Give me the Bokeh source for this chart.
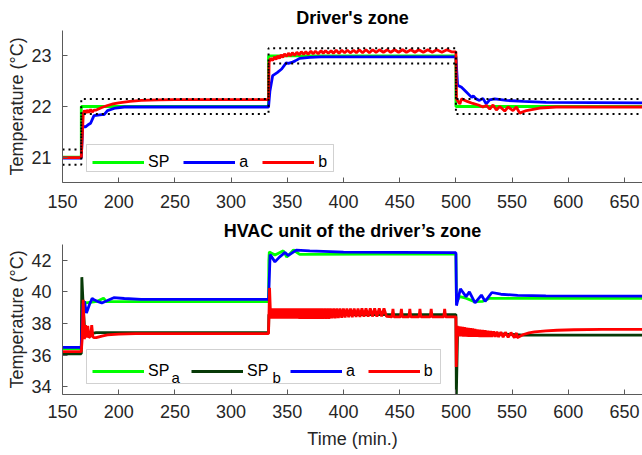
from bokeh.plotting import figure
from bokeh.layouts import column
from bokeh.models import Range1d, Legend, LegendItem, Label, FixedTicker, BoxAnnotation
from bokeh.embed import file_html
from bokeh.resources import INLINE

FONT = "Liberation Sans"
TXT = "#262626"
AXC = "#5a5a5a"

# ---------------- ticks ----------------
x_ticks = [150, 200, 250, 300, 350, 400, 450, 500, 550, 600, 650]
top_y_ticks = [21, 22, 23]
bot_y_ticks = [34, 36, 38, 40, 42]

# ---------------- data: driver's zone ----------------
sp_time = [150, 166.7, 166.7, 333.3, 333.3, 500, 500, 666]
sp_temp = [21.0, 21.0, 22.0, 22.0, 23.0, 23.0, 22.0, 22.0]
tol_upper = [21.15, 21.15, 22.15, 22.15, 23.15, 23.15, 22.15, 22.15]
tol_lower = [20.85, 20.85, 21.85, 21.85, 22.85, 22.85, 21.85, 21.85]

zone_a = [(150, 20.98), (166.7, 20.98), (168, 21.6), (170.5, 21.6), (173.5, 21.65),
          (175, 21.67), (178, 21.82), (185, 21.84), (187, 21.84), (190, 21.92),
          (197, 21.97), (205, 21.99), (333.3, 21.99), (334.5, 22.3), (337, 22.61),
          (341, 22.67), (345, 22.74), (349, 22.86), (351, 22.85), (354, 22.87),
          (357, 22.9), (361, 22.95), (370, 22.97), (380, 22.98), (500, 22.98),
          (501.5, 22.42), (505, 22.38), (509.5, 22.28), (514, 22.18), (515.5, 22.21),
          (518, 22.15), (521, 22.12), (524, 22.16), (527, 22.05), (530, 22.13),
          (534.5, 22.15), (545, 22.12), (560, 22.1), (580, 22.08), (666, 22.07)]

zone_b = [(150, 20.99), (166.7, 20.99), (168.5, 21.86), (169.5, 21.92), (171, 21.87),
          (172, 21.93), (173.5, 21.88), (175, 21.94), (176.5, 21.89), (178, 21.93),
          (180, 21.93), (185, 21.98), (190, 22.02), (195, 22.05), (200, 22.07),
          (210, 22.1), (220, 22.12), (235, 22.13), (250, 22.135), (333.3, 22.135),
          (333.8, 22.87), (335, 22.95), (337, 22.91), (338.5, 22.98), (340, 22.93),
          (341.5, 23.0), (343, 22.95), (344.5, 23.02), (346, 22.97), (347.5, 23.04),
          (349.5, 22.99), (351, 23.05), (353, 23.0), (354.5, 23.06), (356.5, 23.01),
          (358.5, 23.07), (360.5, 23.02), (362.5, 23.08), (364.5, 23.03), (366.5, 23.08),
          (368.5, 23.03), (371, 23.09), (373, 23.04), (375, 23.09), (377.5, 23.04),
          (380, 23.1), (382, 23.05), (384, 23.1), (386.5, 23.05), (389, 23.1),
          (391, 23.05), (393.5, 23.11), (396, 23.05), (398.5, 23.11), (401, 23.06),
          (403.5, 23.11), (406, 23.06), (409, 23.11), (411.5, 23.06), (414, 23.12),
          (417, 23.06), (420, 23.12), (423, 23.06), (426, 23.12), (429, 23.07),
          (432, 23.12), (435.5, 23.07), (439, 23.12), (442, 23.07), (445.5, 23.12),
          (449, 23.07), (452.5, 23.12), (456, 23.07), (460, 23.12), (463.5, 23.07),
          (467, 23.12), (471, 23.07), (475, 23.12), (479, 23.07), (483, 23.12),
          (487.5, 23.07), (492, 23.12), (496, 23.08), (500, 23.08),
          (500.5, 22.15), (502, 22.1), (503.5, 22.05), (505, 22.15), (510, 22.1),
          (515, 22.06), (520, 22.03), (524, 21.99), (527.2, 22.02), (530.1, 21.95),
          (533, 22.03), (536, 21.93), (539, 22.0), (543.4, 21.91), (546.4, 21.99),
          (550.8, 21.92), (553.8, 21.99), (556.7, 21.87), (562.7, 21.92), (574.5, 21.97),
          (589.3, 21.99), (628, 21.99), (666, 21.99)]

# ---------------- data: HVAC unit ----------------
hvac_sp_a = [(150, 36.4), (166.7, 36.4), (167.5, 39.4), (171, 39.3), (176, 39.35),
             (181, 39.4), (186.5, 39.6), (189, 39.38), (333.3, 39.38), (333.6, 42.0),
             (334, 42.53), (339, 42.33), (346.5, 42.6), (349.5, 42.2), (355.5, 42.65),
             (361, 42.38), (500, 42.4), (500.5, 39.35), (503.5, 39.7), (509, 39.6),
             (516.5, 39.38), (524, 39.4), (530, 39.59), (666, 39.59)]

hvac_sp_b = [(150, 36.08), (166.7, 36.08), (167.2, 40.93), (168.5, 39.0), (170, 37.3),
             (175, 37.35), (180, 37.42), (200, 37.42), (333.3, 37.42), (333.6, 38.56),
             (500, 38.56), (500.4, 33.5), (501.5, 37.5), (504, 37.42), (520, 37.4),
             (550, 37.3), (560, 37.26), (666, 37.26)]

hvac_a = [(150, 36.48), (166.7, 36.48), (168, 39.2), (169.5, 39.4), (171.3, 38.66),
          (174, 39.2), (176.4, 39.59), (178, 39.5), (181, 39.4), (185, 39.3), (190, 39.45),
          (195.6, 39.63), (205, 39.58), (220, 39.52), (333.3, 39.52), (333.8, 40.5),
          (334.7, 42.37), (339, 41.9), (343, 42.2), (348, 42.5), (350.7, 42.3),
          (354, 42.45), (358, 42.65), (370, 42.6), (400, 42.52), (500, 42.48),
          (500.5, 39.13), (504, 40.2), (509, 39.7), (512, 40.0), (517, 39.3),
          (522.7, 39.8), (526, 39.4), (532, 39.96), (540, 39.85), (555, 39.78),
          (580, 39.74), (666, 39.73)]

hvac_b = [(150, 36.22), (166.7, 36.22), (167.5, 37.0), (168.4, 39.5), (169.5, 37.0),
          (170.5, 37.9), (171.5, 37.1), (172.5, 37.85), (173.5, 37.1), (175, 37.2),
          (176, 37.9), (177, 37.15), (178, 37.1), (180, 37.1), (185, 37.2), (190, 37.27),
          (200, 37.32), (215, 37.35), (240, 37.35), (333.3, 37.35), (334.2, 40.25),
          (335.2, 38.3),
          (336, 38.95), (337, 38.3), (338, 38.95), (339, 38.3), (340, 38.95), (341, 38.3),
          (342, 38.95), (343, 38.3), (344, 38.95), (345, 38.3), (346, 38.95), (347, 38.3),
          (348, 38.95), (349, 38.3), (350, 38.95), (351, 38.3), (352, 38.95), (353, 38.3),
          (354, 38.95), (355, 38.3), (356, 38.95), (357, 38.3), (358, 38.95), (359, 38.3),
          (360, 38.95), (361.1, 38.3), (362.2, 38.95), (363.3, 38.3), (364.4, 38.95),
          (365.5, 38.3), (366.6, 38.95), (367.7, 38.3), (368.8, 38.95), (369.9, 38.3),
          (371.0, 38.95), (372.2, 38.3), (373.4, 38.95), (374.6, 38.3), (375.8, 38.95),
          (377.0, 38.3), (378.2, 38.95), (379.4, 38.3), (380.6, 38.95), (381.9, 38.3),
          (383.2, 38.95), (384.5, 38.3), (385.8, 38.95), (387.1, 38.3), (388.4, 38.95),
          (389.8, 38.32), (391.2, 38.95), (392.6, 38.32), (394.0, 38.95), (395.4, 38.34),
          (396.9, 38.95), (398.4, 38.36), (399.9, 38.95), (401.4, 38.38), (403.0, 38.95),
          (404.6, 38.4), (406.2, 38.95), (407.8, 38.4), (409.5, 38.95), (411.2, 38.42),
          (412.9, 38.95), (414.6, 38.42), (416.4, 38.95), (418.2, 38.43), (420.0, 38.95),
          (421.9, 38.43), (423.8, 38.95), (425.7, 38.44), (427.7, 38.95), (429.7, 38.44),
          (431.8, 38.95), (433.9, 38.45), (436.0, 38.95), (438.2, 38.45),
          (443.2, 38.42), (444, 38.92), (444.8, 38.42), (450.7, 38.42), (451.5, 38.92),
          (452.3, 38.42), (458.2, 38.42), (459, 38.92), (459.8, 38.42), (467.2, 38.42),
          (468, 38.92), (468.8, 38.42), (477.2, 38.42), (478, 38.92), (478.8, 38.42),
          (489.2, 38.42), (490, 38.92), (490.8, 38.42), (500, 38.42),
          (500.3, 35.25), (501.2, 37.85), (502, 37.2), (502.8, 37.82), (503.6, 37.18),
          (504.4, 37.8), (505.2, 37.18), (506, 37.78), (506.8, 37.17), (507.6, 37.76),
          (508.4, 37.17), (509.2, 37.74), (510, 37.16), (511, 37.72), (512, 37.16),
          (513, 37.7), (514, 37.15), (515, 37.68), (516, 37.15), (517, 37.65),
          (518, 37.15), (519, 37.62), (520, 37.15), (521.2, 37.6), (522.4, 37.15),
          (523.6, 37.58), (524.8, 37.15), (526, 37.56), (527.2, 37.15), (528.4, 37.54),
          (529.6, 37.15), (530.8, 37.52), (532, 37.15), (533.5, 37.5), (535, 37.15),
          (536.5, 37.48), (538, 37.14), (540, 37.45), (542, 37.13), (544, 37.44),
          (546.5, 37.12), (549, 37.42), (552, 37.1), (554, 37.4), (554.5, 37.1),
          (560, 37.3), (565, 37.4), (570, 37.47), (580, 37.53), (590, 37.57), (605, 37.6),
          (630, 37.62), (666, 37.62)]

GREEN = "#00ff00"
DKGREEN = "#073a07"
BLUE = "#0000ff"
RED = "#ff0000"
LW = 2.8


def xs(points):
    return [t for t, _ in points]


def ys(points):
    return [v for _, v in points]


def style(p):
    p.outline_line_color = None
    p.xgrid.visible = False
    p.ygrid.visible = False
    p.background_fill_color = "white"
    p.border_fill_color = "white"
    for ax in (p.xaxis[0], p.yaxis[0]):
        ax.axis_line_color = AXC
        ax.major_tick_line_color = AXC
        ax.major_tick_in = 5
        ax.major_tick_out = 0
        ax.minor_tick_line_color = None
        ax.major_label_text_font = FONT
        ax.major_label_text_font_size = "18px"
        ax.major_label_text_color = TXT
        ax.axis_label_text_font = FONT
        ax.axis_label_text_font_size = "18px"
        ax.axis_label_text_font_style = "normal"
        ax.axis_label_text_color = TXT
    p.xaxis.ticker = FixedTicker(ticks=x_ticks)
    p.yaxis.major_label_standoff = 11
    p.yaxis.axis_label_standoff = 1
    p.yaxis.axis_label = "Temperature (°C)"
    p.title.align = "center"
    p.title.text_font = FONT
    p.title.text_font_size = "18px"
    p.title.text_font_style = "bold"
    p.title.text_color = "#000000"


def add_legend(p, items, loc, box, spacing):
    lg = Legend(items=items, orientation="horizontal", location=loc,
                label_text_font=FONT, label_text_font_size="16px",
                label_text_color="#000000", glyph_width=52, glyph_height=14,
                label_height=14, label_width=0, label_standoff=4, spacing=spacing,
                padding=4, margin=0, border_line_color=None,
                background_fill_alpha=0.0)
    left, right, bottom, top = box
    frame_box = BoxAnnotation(left=left, right=right, bottom=bottom, top=top,
                              left_units="screen", right_units="screen",
                              bottom_units="screen", top_units="screen",
                              fill_color="white", fill_alpha=1.0,
                              line_color="#666666", line_width=1, level="annotation")
    p.add_layout(frame_box)
    p.add_layout(lg, "center")


# ---------------- top figure ----------------
p1 = figure(width=642, height=215, output_backend="svg", toolbar_location=None,
            x_range=Range1d(150, 666), y_range=Range1d(20.5, 23.5),
            min_border_left=62, min_border_right=0, min_border_top=30,
            min_border_bottom=33, title="Driver's zone")
style(p1)
p1.title.standoff = 5
p1.yaxis.ticker = FixedTicker(ticks=top_y_ticks)
p1.xaxis.major_label_standoff = 12

r_sp = p1.line(sp_time, sp_temp, line_color=GREEN, line_width=LW)
r_a = p1.line(xs(zone_a), ys(zone_a), line_color=BLUE, line_width=LW)
r_b = p1.line(xs(zone_b), ys(zone_b), line_color=RED, line_width=LW)
p1.line(sp_time, tol_upper, line_color="black", line_width=2, line_dash="2 4")
p1.line(sp_time, tol_lower, line_color="black", line_width=2, line_dash="2 4")

add_legend(p1, [LegendItem(label="SP", renderers=[r_sp]),
                LegendItem(label="a", renderers=[r_a]),
                LegendItem(label="b", renderers=[r_b])], (30, 11), (24, 271, 11, 38), 14)

# ---------------- bottom figure ----------------
p2 = figure(width=642, height=239, output_backend="svg", toolbar_location=None,
            x_range=Range1d(150, 666), y_range=Range1d(33.5, 43),
            min_border_left=62, min_border_right=0, min_border_top=27,
            min_border_bottom=60, title="HVAC unit of the driver\u2019s zone")
style(p2)
p2.title.standoff = 7
p2.yaxis.ticker = FixedTicker(ticks=bot_y_ticks)
p2.xaxis.major_label_standoff = 10
p2.xaxis.axis_label = "Time (min.)"
p2.xaxis.axis_label_standoff = 8

r_spa = p2.line(xs(hvac_sp_a), ys(hvac_sp_a), line_color=GREEN, line_width=LW)
r_spb = p2.line(xs(hvac_sp_b), ys(hvac_sp_b), line_color=DKGREEN, line_width=LW)
r_ha = p2.line(xs(hvac_a), ys(hvac_a), line_color=BLUE, line_width=LW)
r_hb = p2.line(xs(hvac_b), ys(hvac_b), line_color=RED, line_width=LW)

add_legend(p2, [LegendItem(label="SP  ", renderers=[r_spa]),
                LegendItem(label="SP  ", renderers=[r_spb]),
                LegendItem(label="a", renderers=[r_ha]),
                LegendItem(label="b", renderers=[r_hb])], (30, 14), (24, 378, 11, 45), 13)

for txt, sx in (("a", 109), ("b", 210)):
    p2.add_layout(Label(x=sx, y=17, x_units="screen", y_units="screen", text=txt,
                        text_font=FONT, text_font_size="15px", text_color="#000000",
                        text_baseline="alphabetic", level="overlay"))

layout = column(p1, p2)
open("out.html", "w").write(file_html(layout, INLINE))
